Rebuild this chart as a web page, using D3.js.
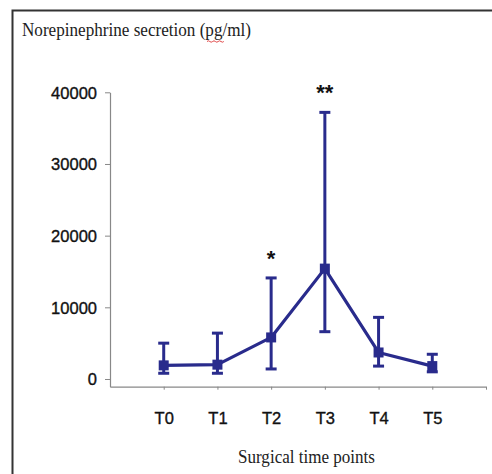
<!DOCTYPE html>
<html><head><meta charset="utf-8">
<script src="https://cdn.jsdelivr.net/npm/d3@7"></script>
<style>html,body{margin:0;padding:0;background:#fff;}svg{display:block;}</style>
</head><body>
<svg id="c" width="492" height="474"></svg>
<script>
const categories = ["T0","T1","T2","T3","T4","T5"];
const meanValues = [1900, 2000, 5800, 15400, 3700, 1800];
const upperValues = [5000, 6400, 14100, 37200, 8600, 3450];
const lowerValues = [800, 800, 1400, 6600, 1800, 1000];
const significance = ["", "", "*", "**", "", ""];
const yTicks = [0, 10000, 20000, 30000, 40000];

const color = "#292b8c";
const svg = d3.select("#c");

// frame (cropped: left + top)
svg.append("path").attr("d","M12.5,474 L12.5,10.5 L492,10.5")
  .attr("fill","none").attr("stroke","#333").attr("stroke-width",2);

svg.append("text").attr("x",22).attr("y",36)
  .attr("font-family","Liberation Serif, Times New Roman, serif")
  .attr("font-size",19).attr("fill","#222")
  .attr("textLength",229).attr("lengthAdjust","spacingAndGlyphs")
  .text("Norepinephrine secretion (pg/ml)");
// spellcheck wavy underline under "pg"
svg.append("path").attr("d","M207,41.5 q1.4,-1.4 2.8,0 t2.8,0 t2.8,0 t2.8,0 t2.8,0 t2.8,0")
  .attr("fill","none").attr("stroke","#d33").attr("stroke-width",0.9);

const x = d3.scaleLinear().domain([-1, 6]).range([110, 486]);
const y = d3.scaleLinear().domain([-1075, 40000]).range([386.7, 92.3]);

// y axis
const yAxis = svg.append("g").attr("transform","translate(110,0)")
  .call(d3.axisLeft(y).tickValues(yTicks).tickSize(5).tickSizeOuter(0).tickFormat(d3.format("d")));
yAxis.select(".domain").attr("stroke","#888").attr("stroke-width",1.2);
yAxis.selectAll(".tick line").attr("stroke","#888");
yAxis.selectAll(".tick text").attr("font-family","Liberation Sans, Arial, sans-serif")
  .attr("font-size",16.5).attr("fill","#111").attr("stroke","#111").attr("stroke-width",0.35)
  .attr("x",-13).attr("dy","0.36em");

// x axis
const xAxis = svg.append("g").attr("transform","translate(0,386.7)")
  .call(d3.axisBottom(x).tickValues(d3.range(categories.length).concat([6])).tickSize(3).tickSizeOuter(0)
    .tickFormat(i => categories[i] || ""));
xAxis.select(".domain").attr("stroke","#888").attr("stroke-width",1.2);
xAxis.selectAll(".tick line").attr("stroke","#888");
xAxis.selectAll(".tick text").attr("font-family","Liberation Sans, Arial, sans-serif")
  .attr("font-size",16.5).attr("fill","#111").attr("stroke","#111").attr("stroke-width",0.35).attr("y",26);

svg.append("text").attr("x",238).attr("y",463)
  .attr("font-family","Liberation Serif, Times New Roman, serif")
  .attr("font-size",19).attr("fill","#222")
  .attr("textLength",137).attr("lengthAdjust","spacingAndGlyphs")
  .text("Surgical time points");

// error bars
const g = svg.append("g");
categories.forEach((c,i) => {
  const cx = x(i);
  g.append("line").attr("x1",cx).attr("x2",cx).attr("y1",y(upperValues[i])).attr("y2",y(lowerValues[i]))
    .attr("stroke",color).attr("stroke-width",3);
  [upperValues[i], lowerValues[i]].forEach(v => {
    g.append("line").attr("x1",cx-5.5).attr("x2",cx+5.5).attr("y1",y(v)).attr("y2",y(v))
      .attr("stroke",color).attr("stroke-width",3);
  });
});

// line
const line = d3.line().x((d,i)=>x(i)).y(d=>y(d));
g.append("path").datum(meanValues).attr("d",line)
  .attr("fill","none").attr("stroke",color).attr("stroke-width",3.2).attr("stroke-linejoin","round");

// markers
g.selectAll("rect.m").data(meanValues).join("rect").attr("class","m")
  .attr("x",(d,i)=>x(i)-5).attr("y",d=>y(d)-5).attr("width",10).attr("height",10).attr("fill",color);

// significance stars
svg.selectAll("text.sig").data(significance).join("text").attr("class","sig")
  .attr("x",(d,i)=>x(i)).attr("y",(d,i)=>y(upperValues[i])-12)
  .attr("text-anchor","middle").attr("font-family","Liberation Sans, Arial, sans-serif")
  .attr("font-size",22).attr("font-weight","bold").attr("fill","#111").text(d=>d);
</script>
</body></html>
